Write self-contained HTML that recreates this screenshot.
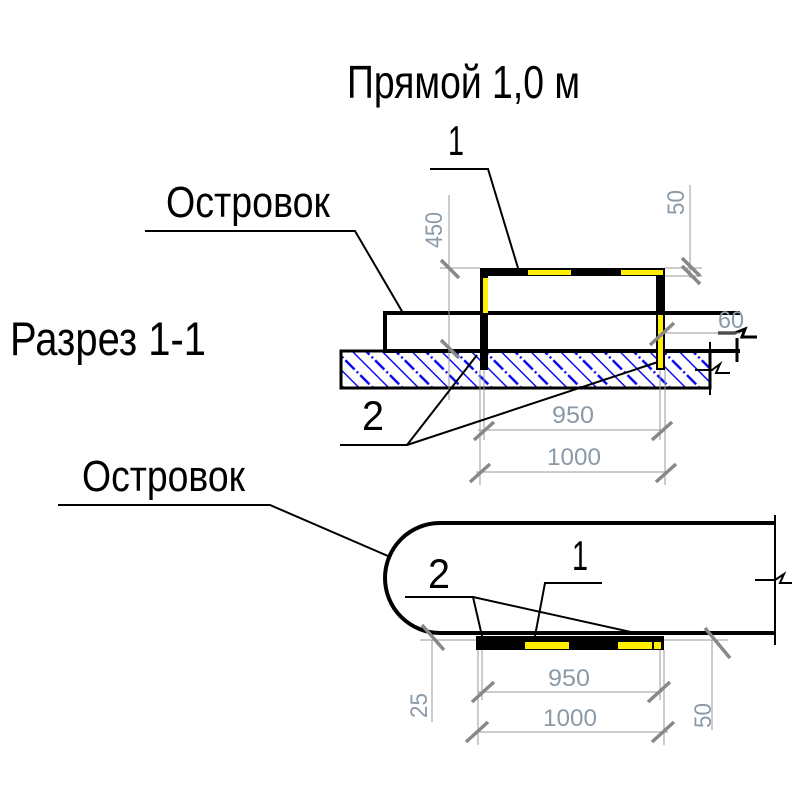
<!DOCTYPE html>
<html><head><meta charset="utf-8"><style>
html,body{margin:0;padding:0;background:#fff;}
svg{display:block;}
text{font-family:"Liberation Sans Narrow","Liberation Sans",sans-serif;}
</style></head><body>
<svg width="800" height="800" viewBox="0 0 800 800" xmlns="http://www.w3.org/2000/svg">
<defs>
<pattern id="h" patternUnits="userSpaceOnUse" width="21" height="21" patternTransform="rotate(-45)">
<line x1="0" y1="0" x2="0" y2="21" stroke="#0000ee" stroke-width="2.8"/>
<line x1="10.5" y1="0" x2="10.5" y2="21" stroke="#0000ee" stroke-width="2.4" stroke-dasharray="8,3,2,3"/>
</pattern>
</defs>
<!-- titles -->
<text x="347" y="98" font-size="46" textLength="233" lengthAdjust="spacingAndGlyphs">Прямой 1,0 м</text>
<text x="448" y="155" font-size="42" textLength="16" lengthAdjust="spacingAndGlyphs">1</text>
<text x="166" y="217" font-size="44" textLength="164" lengthAdjust="spacingAndGlyphs">Островок</text>
<text x="10" y="355" font-size="47" textLength="196" lengthAdjust="spacingAndGlyphs">Разрез 1-1</text>
<text x="362" y="430" font-size="42" textLength="22" lengthAdjust="spacingAndGlyphs">2</text>

<!-- top section: hatched base -->
<rect x="341" y="351" width="369" height="37" fill="url(#h)" stroke="#000" stroke-width="3"/>
<!-- island -->
<path d="M740 313 H385 V351 H740" fill="#fff" stroke="#000" stroke-width="4"/>
<!-- breaks -->
<line x1="737" y1="338" x2="737" y2="362" stroke="#000" stroke-width="3"/>
<path d="M718 333 H735 L745 329 L742 337 H757" fill="none" stroke="#000" stroke-width="3"/>
<line x1="710" y1="342" x2="710" y2="395" stroke="#000" stroke-width="2"/>
<path d="M695 370 H712 L720 364 L716 373 H730" fill="none" stroke="#000" stroke-width="2"/>

<!-- frame -->
<rect x="480" y="268" width="185" height="8" fill="#000"/>
<rect x="480" y="268" width="8" height="102" fill="#000"/>
<rect x="656" y="268" width="9" height="102" fill="#000"/>
<rect x="528" y="270" width="43" height="5" fill="#ffee00"/>
<rect x="621" y="270" width="42" height="5" fill="#ffee00"/>
<rect x="483" y="278" width="5" height="35" fill="#ffee00"/>
<rect x="658" y="315" width="5" height="53" fill="#ffee00"/>

<!-- dims top (gray) -->
<g stroke="#999" stroke-width="1">
<line x1="449" y1="195" x2="449" y2="400"/>
<line x1="440" y1="268" x2="480" y2="268"/>
<line x1="690" y1="185" x2="690" y2="278"/>
<line x1="665" y1="276" x2="702" y2="276"/>
<line x1="665" y1="268" x2="702" y2="268"/>
<line x1="665" y1="333" x2="740" y2="333"/>
<line x1="484" y1="370" x2="484" y2="440"/>
<line x1="660" y1="370" x2="660" y2="440"/>
<line x1="480" y1="370" x2="480" y2="485"/>
<line x1="665" y1="370" x2="665" y2="485"/>
<line x1="478" y1="430" x2="664" y2="430"/>
<line x1="476" y1="472" x2="668" y2="472"/>
</g>
<g stroke="#888" stroke-width="3.5">
<line x1="441" y1="260" x2="459" y2="278"/>
<line x1="441" y1="340" x2="459" y2="358"/>
<line x1="682" y1="258" x2="700" y2="276"/>
<line x1="682" y1="266" x2="700" y2="284"/>
<line x1="650" y1="345" x2="674" y2="323"/>
<line x1="474" y1="440" x2="494" y2="422"/>
<line x1="652" y1="440" x2="672" y2="422"/>
<line x1="470" y1="482" x2="490" y2="464"/>
<line x1="656" y1="482" x2="676" y2="464"/>
</g>
<g fill="#8c9aa8">
<text x="0" y="0" font-size="24" transform="translate(442,248) rotate(-90)" textLength="36" lengthAdjust="spacingAndGlyphs">450</text>
<text x="0" y="0" font-size="24" transform="translate(684,215) rotate(-90)" textLength="25" lengthAdjust="spacingAndGlyphs">50</text>
<text x="718" y="328" font-size="24" textLength="26" lengthAdjust="spacingAndGlyphs">60</text>
<text x="552" y="423" font-size="24" textLength="42" lengthAdjust="spacingAndGlyphs">950</text>
<text x="547" y="465" font-size="24" textLength="54" lengthAdjust="spacingAndGlyphs">1000</text>
</g>

<!-- leaders top -->
<g stroke="#000" stroke-width="2" fill="none">
<polyline points="430,169 488,169 518,268"/>
<polyline points="145,231 355,231 403,313"/>
<polyline points="340,445 407,445 477,355"/>
<line x1="407" y1="445" x2="658" y2="362"/>
</g>

<!-- bottom plan -->
<text x="82" y="491" font-size="44" textLength="163" lengthAdjust="spacingAndGlyphs">Островок</text>
<text x="428" y="588" font-size="42" textLength="22" lengthAdjust="spacingAndGlyphs">2</text>
<text x="572" y="570" font-size="42" textLength="16" lengthAdjust="spacingAndGlyphs">1</text>
<path d="M775 523 H440 A55 55 0 0 0 440 633 H775" fill="none" stroke="#000" stroke-width="4"/>
<line x1="775" y1="515" x2="775" y2="645" stroke="#000" stroke-width="2"/>
<path d="M755 580 H775 L784 574 L780 583 H792" fill="none" stroke="#000" stroke-width="2"/>
<rect x="476" y="636" width="188" height="14" fill="#000"/>
<rect x="525" y="642" width="44" height="7" fill="#ffee00"/>
<rect x="618" y="642" width="34" height="7" fill="#ffee00"/>
<rect x="654" y="642" width="7" height="7" fill="#ffee00"/>
<g stroke="#000" stroke-width="2" fill="none">
<polyline points="58,505 270,505 388,556"/>
<polyline points="405,597 473,597 482,636"/>
<line x1="473" y1="597" x2="640" y2="634"/>
<polyline points="602,583 545,583 535,636"/>
</g>
<g stroke="#999" stroke-width="1">
<line x1="420" y1="640" x2="476" y2="640"/>
<line x1="432" y1="640" x2="432" y2="722"/>
<line x1="664" y1="640" x2="728" y2="640"/>
<line x1="712" y1="640" x2="712" y2="730"/>
<line x1="478" y1="650" x2="478" y2="745"/>
<line x1="482" y1="650" x2="482" y2="700"/>
<line x1="660" y1="650" x2="660" y2="700"/>
<line x1="664" y1="650" x2="664" y2="745"/>
<line x1="478" y1="692" x2="662" y2="692"/>
<line x1="476" y1="732" x2="668" y2="732"/>
</g>
<g stroke="#888" stroke-width="3.5">
<line x1="422" y1="625" x2="444" y2="650"/>
<line x1="705" y1="628" x2="730" y2="658"/>
<line x1="472" y1="702" x2="494" y2="682"/>
<line x1="648" y1="702" x2="670" y2="682"/>
<line x1="466" y1="742" x2="488" y2="722"/>
<line x1="652" y1="742" x2="674" y2="722"/>
</g>
<g fill="#8c9aa8">
<text x="0" y="0" font-size="24" transform="translate(427,718) rotate(-90)" textLength="25" lengthAdjust="spacingAndGlyphs">25</text>
<text x="0" y="0" font-size="24" transform="translate(711,728) rotate(-90)" textLength="25" lengthAdjust="spacingAndGlyphs">50</text>
<text x="548" y="686" font-size="24" textLength="42" lengthAdjust="spacingAndGlyphs">950</text>
<text x="543" y="726" font-size="24" textLength="54" lengthAdjust="spacingAndGlyphs">1000</text>
</g>
</svg>
</body></html>
